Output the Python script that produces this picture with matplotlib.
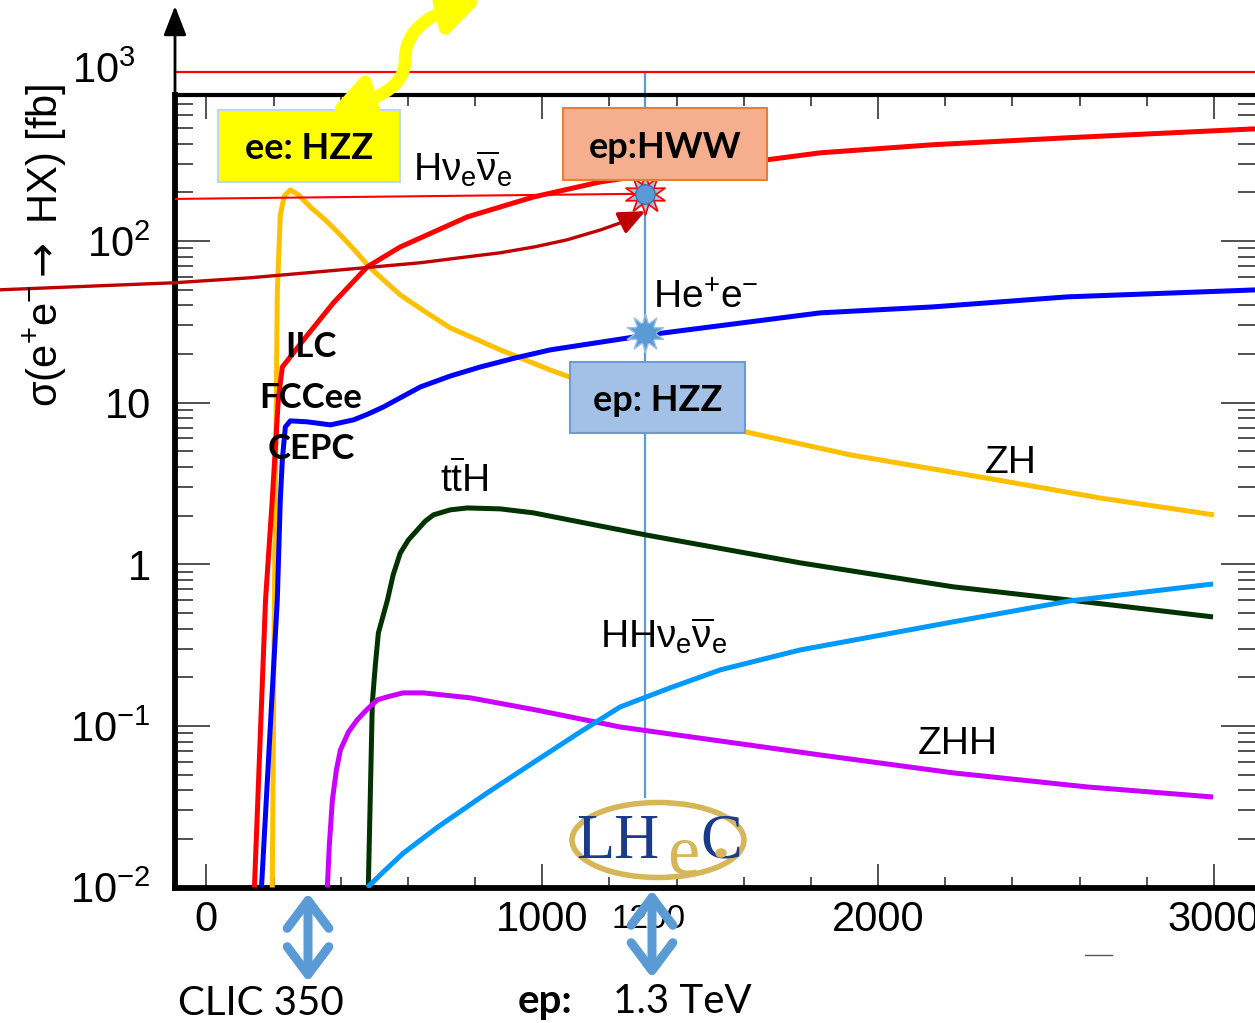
"""
Higgs production cross sections in e+e- vs sqrt(s), with ep (LHeC) overlay notes
"""
import numpy as np
import matplotlib.pyplot as plt
from matplotlib.lines import Line2D
from matplotlib.patches import Rectangle, Ellipse, Circle, FancyArrowPatch, ArrowStyle
from matplotlib.path import Path
from matplotlib.ticker import (FixedLocator, FixedFormatter, LogLocator,
                               NullFormatter, MultipleLocator)

W, H = 1255, 1023

# sqrt(s) [GeV] and cross sections [fb]
zh_x = [196, 202, 211, 220, 232, 250, 274, 310, 354, 399, 443, 488, 577, 652, 726,
        875, 1024, 1173, 1321, 1604, 1917, 2363, 2661, 3000]
zh_y = [0.01, 0.47, 47.7, 145, 190, 207, 193, 162, 135, 109, 86.9, 68, 46.4, 36.4, 29,
        21.2, 15.9, 12.3, 9.7, 6.6, 4.75, 3.3, 2.57, 2.02]

hvv_x = [143, 176, 196, 214, 226, 250, 289, 378, 479, 577, 777, 973, 1173, 1411, 1670,
         1827, 2164, 2563, 3122]
hvv_y = [0.01, 0.60, 2.50, 10.4, 16.6, 19.2, 24.4, 41.4, 69.2, 91.8, 141, 187, 232,
         275, 318, 351, 394, 435, 494]

hee_x = [164, 211, 220, 226, 235, 250, 301, 369, 438, 482, 527, 577, 637, 726, 815,
         920, 1024, 1313, 1827, 2164, 2563, 3122]
hee_y = [0.01, 0.60, 2.50, 4.42, 7.08, 7.71, 7.60, 7.28, 7.82, 8.51, 9.4, 10.7, 12.5,
         14.6, 16.6, 18.9, 21.2, 26.2, 35.9, 39.1, 45.1, 49.8]

tth_x = [482, 494, 503, 512, 539, 556, 577, 601, 628, 652, 676, 726, 777, 875, 973,
         1307, 1768, 2223, 2571, 2997]
tth_y = [0.01, 0.139, 0.238, 0.376, 0.60, 0.859, 1.17, 1.41, 1.63, 1.85, 2.02, 2.17,
         2.23, 2.20, 2.08, 1.52, 1.02, 0.725, 0.60, 0.472]

zhh_x = [360, 366, 375, 387, 399, 423, 449, 476, 509, 548, 586, 646, 786, 985, 1232,
         1827, 2223, 2622, 2997]
zhh_y = [0.01, 0.0183, 0.0347, 0.0533, 0.071, 0.0917, 0.109, 0.125, 0.145, 0.153,
         0.160, 0.160, 0.149, 0.125, 0.0984, 0.0661, 0.0512, 0.0419, 0.0363]

hhvv_x = [479, 527, 586, 688, 836, 985, 1113, 1232, 1381, 1530, 1768, 2223, 2571, 2997]
hhvv_y = [0.01, 0.0125, 0.0163, 0.0236, 0.0385, 0.0615, 0.0917, 0.131, 0.172, 0.222,
          0.295, 0.440, 0.593, 0.755]

# ep annotations: 1.3 TeV point and the guide arrow
ep_sqrt_s = 1307
ep_hww = 196
ep_hzz = 27
ep_hww_left = 182
arrow_x = [-613, -98, 131, 369, 637, 756, 875, 979, 1074, 1173, 1240, 1307]
arrow_y = [49.9, 55.1, 59.2, 65.4, 73.3, 78.8, 84.5, 92.1, 101.7, 117, 131, 153]

x_major = [0, 1000, 2000, 3000]
x_labels = ['0', '1000', '2000', '3000']
y_major = [1e-2, 1e-1, 1, 10, 100]
y_labels = [r'$10^{-2}$', r'$10^{-1}$', '1', '10', r'$10^{2}$']

plt.rcParams['font.family'] = ['Liberation Sans', 'DejaVu Sans']
plt.rcParams['mathtext.fontset'] = 'custom'
plt.rcParams['mathtext.rm'] = 'Liberation Sans'
plt.rcParams['mathtext.it'] = 'Liberation Sans'
plt.rcParams['mathtext.sf'] = 'DejaVu Sans'

CAL = ['Lato', 'DejaVu Sans']
SERIF = ['Liberation Serif', 'DejaVu Serif']
STEEL = '#5b9bd5'


def fp(x, y):
    # picture pixels -> figure fraction
    return x / W, 1 - y / H


fig = plt.figure(figsize=(W / 100, H / 100), dpi=100)
ax_l, ax_r, ax_t, ax_b = 174.5, 1256.0, 95.0, 887.5
ax = fig.add_axes([ax_l / W, 1 - ax_b / H, (ax_r - ax_l) / W, (ax_b - ax_t) / H])

curves = [
    (zh_x, zh_y, '#ffc000'),
    (hvv_x, hvv_y, '#ff0000'),
    (hee_x, hee_y, '#0000ff'),
    (tth_x, tth_y, '#003300'),
    (zhh_x, zhh_y, '#cc00ff'),
    (hhvv_x, hhvv_y, '#0099ff'),
]
for xs, ys, c in curves:
    ax.plot(xs, ys, color=c, lw=3.6, solid_capstyle='butt', solid_joinstyle='round', zorder=3)

ax.set_yscale('log')
ax.xaxis.set_major_locator(FixedLocator(x_major))
ax.xaxis.set_major_formatter(FixedFormatter(x_labels))
ax.xaxis.set_minor_locator(MultipleLocator(200))
ax.yaxis.set_major_locator(FixedLocator(y_major))
ax.yaxis.set_major_formatter(FixedFormatter(y_labels))
ax.yaxis.set_minor_locator(LogLocator(base=10, subs=np.arange(2, 10)))
ax.yaxis.set_minor_formatter(NullFormatter())
ax.tick_params(which='both', direction='in', top=True, right=True, color='#333333', width=1.2)
ax.tick_params(axis='x', which='major', length=17, pad=9, labelsize=30)
ax.tick_params(axis='x', which='minor', length=8)
ax.tick_params(axis='y', which='major', length=25, pad=17, labelsize=30)
ax.tick_params(axis='y', which='minor', length=13)
for s in ['left', 'bottom']:
    ax.spines[s].set_linewidth(4.2)
ax.spines['top'].set_linewidth(3)
ax.spines['right'].set_visible(False)

# ep guide lines and markers
ax.plot([-95, ep_sqrt_s], [ep_hww_left, ep_hww], color='#ff0000', lw=1.5, zorder=4)
ax.plot([ep_sqrt_s, ep_sqrt_s], [0.0363, 1112], color=STEEL, lw=1.6, clip_on=False, zorder=2)
ax.plot([0, 1], [1112, 1112], color='#ff0000', lw=1.6, clip_on=False,
        transform=ax.get_yaxis_transform())
ax.plot(ep_sqrt_s, ep_hww, marker=(10, 1, 0), ms=30, mfc='#9dc3e6', mec='#ff0000', mew=1.2, zorder=6)
ax.plot(ep_sqrt_s, ep_hww, marker='o', ms=14, mfc=STEEL, mec='#2e75b6', zorder=7)
ax.plot(ep_sqrt_s, ep_hzz, marker=(10, 1, 0), ms=28, mfc=STEEL, mec='#9dc3e6', mew=1, zorder=6)
ax.plot(ep_sqrt_s, ep_hzz, marker='o', ms=14, mfc=STEEL, mec=STEEL, zorder=7)

ax.add_patch(FancyArrowPatch(path=Path(np.column_stack([arrow_x, arrow_y])),
                             arrowstyle=ArrowStyle('-|>', head_length=0.8, head_width=0.35),
                             mutation_scale=20, lw=2.4, color='#c00000',
                             transform=ax.transData, clip_on=False, zorder=5))

ax.set_xlim(-95, 3125)
ax.set_ylim(1e-2, 800)

# y axis arrow and the 10^3 level above the frame
fig.add_artist(FancyArrowPatch(posA=fp(175, 95), posB=fp(175, 6), transform=fig.transFigure,
                               arrowstyle=ArrowStyle('-|>', head_length=0.9, head_width=0.35),
                               mutation_scale=20, lw=2, color='black', shrinkA=0, shrinkB=0))
fig.text(*fp(136, 72), r'$10^{3}$', ha='right', va='center', fontsize=30)

fig.text(*fp(45, 245), r'$\sigma$(e$^{+}$e$^{-}$$\mathsf{\rightarrow}$ HX) [fb]', rotation=90,
         ha='center', va='center', fontsize=30)

# curve labels
lab = dict(fontsize=28, va='baseline', ha='left')
fig.text(*fp(413, 181), r'H$\nu_{e}\overline{\nu}_{e}$', **lab)
fig.text(*fp(653, 308), r'He$^{+}$e$^{-}$', **lab)
fig.text(*fp(985, 473), 'ZH', **lab)
fig.text(*fp(440, 492), r't$\overline{\rm t}$H', **lab)
fig.text(*fp(600, 648), r'HH$\nu_{e}\overline{\nu}_{e}$', **lab)
fig.text(*fp(918, 754), 'ZHH', **lab)

# boxes
boxes = [
    ((218, 110, 400, 182), '#ffff00', '#bdd7ee', 'ee: HZZ', 159),
    ((563, 108, 767, 180), '#f5ae8e', '#ed7d31', 'ep:HWW', 158),
    ((570, 362, 745, 433), '#a3c1e6', '#6f9bd4', 'ep: HZZ', 411),
]
for (x0, y0, x1, y1), fc, ec, txt, base in boxes:
    fig.add_artist(Rectangle(fp(x0, y1), (x1 - x0) / W, (y1 - y0) / H, transform=fig.transFigure,
                             fc=fc, ec=ec, lw=1.5, zorder=8))
    fig.text(*fp((x0 + x1) / 2, base), txt, ha='center', va='baseline', fontsize=26,
             family=CAL, weight='bold', zorder=9)

for txt, base in [('ILC', 357), ('FCCee', 408), ('CEPC', 459)]:
    fig.text(*fp(311, base), txt, ha='center', va='baseline', fontsize=25,
             family=CAL, weight='bold', zorder=9)

# yellow S-shaped arrow to the ee box
s_verts = [fp(482, 0), fp(430, 12), fp(405, 30), fp(405, 60),
           fp(405, 90), fp(372, 100), fp(330, 112)]
s_codes = [Path.MOVETO] + [Path.CURVE4] * 6
fig.add_artist(FancyArrowPatch(path=Path(s_verts, s_codes), transform=fig.transFigure,
                               arrowstyle=ArrowStyle('<|-|>', head_length=1.1, head_width=0.7),
                               mutation_scale=20, lw=9, color='#ffff00', zorder=10))

# LHeC logo
fig.add_artist(Ellipse(fp(658, 840), 172 / W, 75 / H, transform=fig.transFigure,
                       fill=False, ec='#d6b656', lw=4, zorder=4))
fig.text(*fp(576, 858), 'LH', family=SERIF, fontsize=45,
         color='#1a3a8a', va='baseline', ha='left', zorder=5)
fig.text(*fp(667, 874), 'e', family=SERIF, fontsize=52,
         color='#d6b656', va='baseline', ha='left', zorder=5)
fig.text(*fp(700, 858), 'C', family=SERIF, fontsize=45,
         color='#1a3a8a', va='baseline', ha='left', zorder=5)
fig.add_artist(Circle(fp(721, 853), 5 / W, transform=fig.transFigure, color='#d6b656', zorder=6))

# below the axis
fig.text(*fp(648, 928), '1200', ha='center', va='baseline', fontsize=24)
for xa, ya, yb in [(308, 893, 982), (652, 890, 978)]:
    fig.add_artist(FancyArrowPatch(posA=fp(xa, ya), posB=fp(xa, yb), transform=fig.transFigure,
                                   arrowstyle=ArrowStyle('<->', head_length=1.0, head_width=0.75),
                                   mutation_scale=20, lw=6.5, color=STEEL, shrinkA=0, shrinkB=0,
                                   capstyle='round', joinstyle='round', zorder=10))
fig.text(*fp(178, 1015), 'CLIC 350', family=CAL, fontsize=29, va='baseline', ha='left')
fig.text(*fp(518, 1013), 'ep:', family=CAL, fontsize=29, weight='bold', va='baseline', ha='left')
fig.text(*fp(613, 1013), '1.3 TeV', family=CAL, fontsize=29, va='baseline', ha='left')
fig.add_artist(Line2D([1085 / W, 1112 / W], [1 - 955 / H] * 2, color='#555555', lw=1))

plt.savefig('out.png', dpi=100)
